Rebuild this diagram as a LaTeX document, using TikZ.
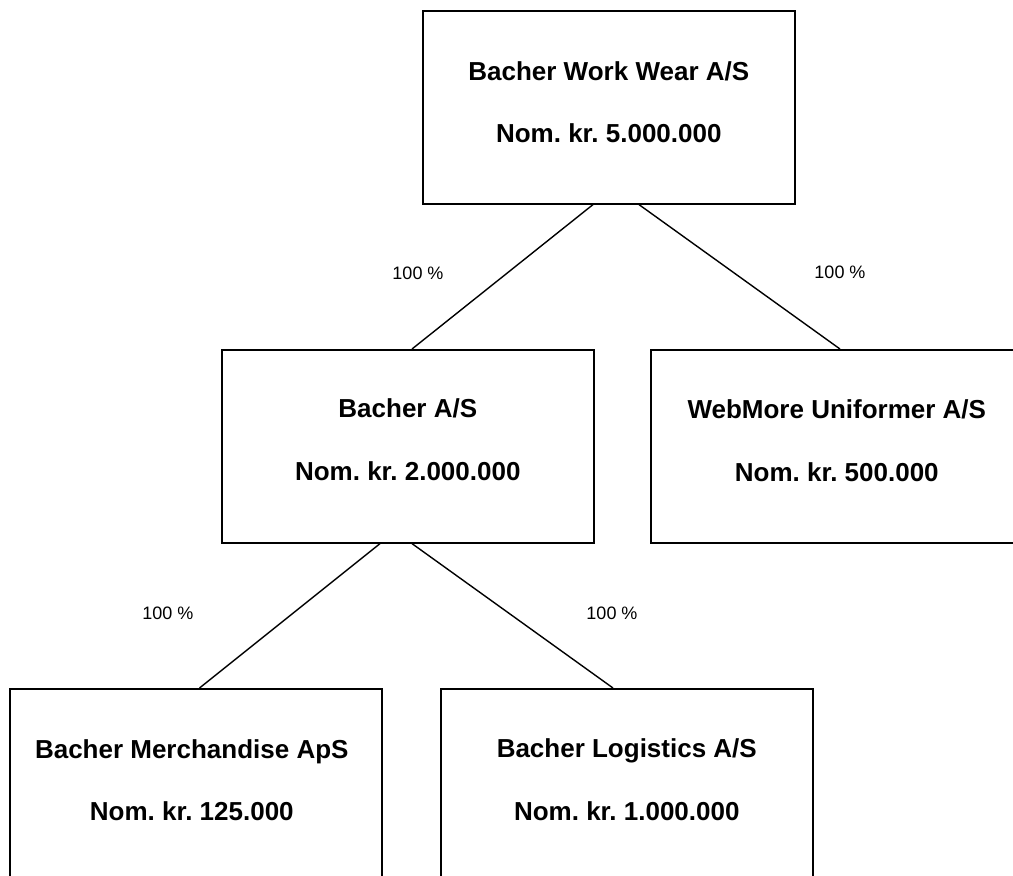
\documentclass[tikz,border=0pt]{standalone}
\usepackage{fontspec}
\setmainfont{Liberation Sans}
\usetikzlibrary{calc}
\frenchspacing
\tikzset{
  orgbox/.style={draw=black, line width=1.6pt, rectangle, anchor=north west, inner sep=0pt, minimum width=372pt, minimum height=193pt},
  name1/.style={font=\fontsize{26}{30}\selectfont\bfseries\frenchspacing, anchor=base, inner sep=0pt},
  pct/.style={font=\fontsize{18}{20}\selectfont, anchor=center, inner sep=0pt},
  link/.style={draw=black, line width=1.4pt}
}
\begin{document}
\begin{tikzpicture}[x=1pt,y=-1pt]
\useasboundingbox (0,0) rectangle (1013,876);
\fill[white] (0,0) rectangle (1013,876);
\clip (0,0) rectangle (1013,876);
% boxes
\node[orgbox] (top) at (422,10) {};
\node[orgbox] (bas) at (221,349) {};
\node[orgbox] (web) at (650,349) {};
\node[orgbox] (mer) at (9,688) {};
\node[orgbox] (log) at (440,688) {};
% texts
\node[name1] (t1) at ($(top.north)+(0,70)$) {Bacher Work Wear A/S};
\node[name1] (t2) at ($(top.north)+(0,132)$) {Nom. kr. 5.000.000};
\node[name1] (b1) at ($(bas.north)+(0,68)$) {Bacher A/S};
\node[name1] (b2) at ($(bas.north)+(0,131)$) {Nom. kr. 2.000.000};
\node[name1] (w1) at ($(web.north)+(0,69)$) {WebMore Uniformer A/S};
\node[name1] (w2) at ($(web.north)+(0,132)$) {Nom. kr. 500.000};
\node[name1] (m1) at ($(mer.north)+(-4,70)$) {Bacher Merchandise ApS};
\node[name1] (m2) at ($(mer.north)+(-4,132)$) {Nom. kr. 125.000};
\node[name1] (l1) at ($(log.north)+(0,69)$) {Bacher Logistics A/S};
\node[name1] (l2) at ($(log.north)+(0,132)$) {Nom. kr. 1.000.000};
% connectors
\draw[link] ([xshift=171pt]top.south west) -- ([xshift=191pt]bas.north west);
\draw[link] ([xshift=217pt]top.south west) -- ([xshift=190pt]web.north west);
\draw[link] ([xshift=159pt]bas.south west) -- ([xshift=190.5pt]mer.north west);
\draw[link] ([xshift=191pt]bas.south west) -- ([xshift=173pt]log.north west);
% percentages
\node[pct] (p1) at (418,273) {100 \%};
\node[pct] (p2) at (840,272) {100 \%};
\node[pct] (p3) at (168,613) {100 \%};
\node[pct] (p4) at (612,613) {100 \%};
\end{tikzpicture}
\end{document}
